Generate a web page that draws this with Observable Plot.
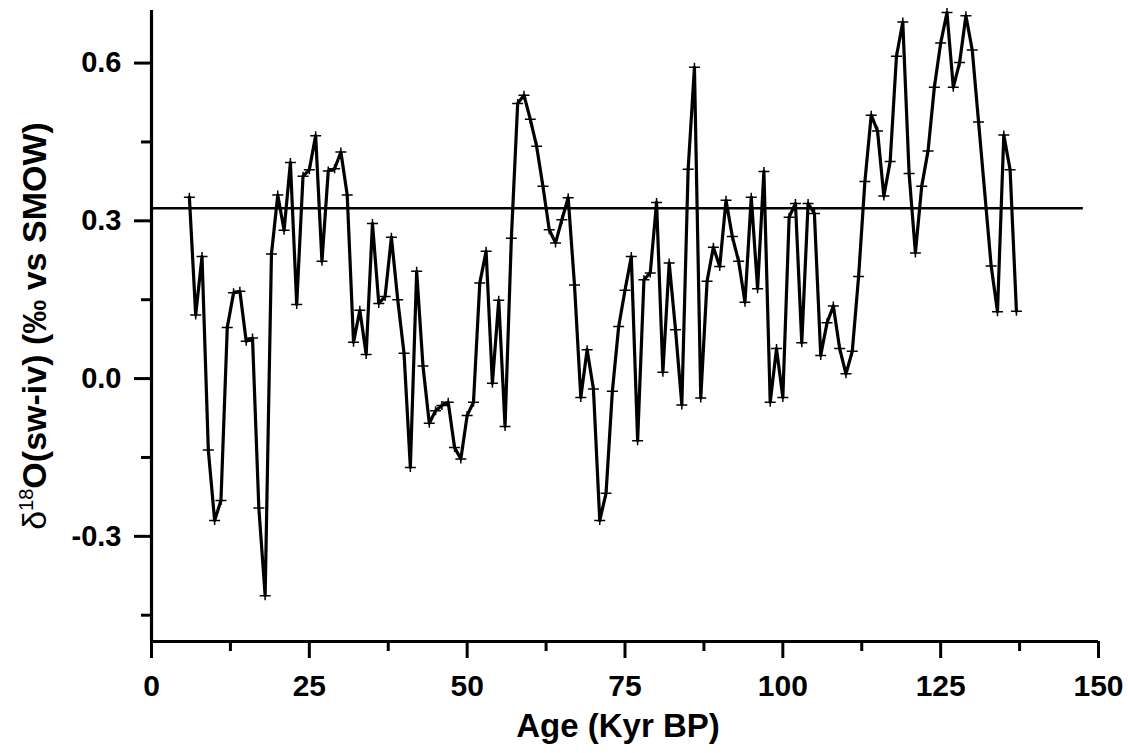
<!DOCTYPE html>
<html>
<head>
<meta charset="utf-8">
<script src="https://cdn.jsdelivr.net/npm/d3@7"></script>
<script src="https://cdn.jsdelivr.net/npm/@observablehq/plot@0.6"></script>
<style>
  html, body { margin: 0; padding: 0; background: #fff; }
  #chart svg { display: block; }
</style>
</head>
<body>
<div id="chart"></div>
<script>
// Age of each sample (kyr BP)
const ages = [
  6, 7, 8, 9, 10, 11, 12, 13, 14, 15, 16, 17, 18, 19, 20, 21, 22, 23, 24, 25,
  26, 27, 28, 29, 30, 31, 32, 33, 34, 35, 36, 37, 38, 39, 40, 41, 42, 43, 44, 45,
  46, 47, 48, 49, 50, 51, 52, 53, 54, 55, 56, 57, 58, 59, 60, 61, 62, 63, 64, 65,
  66, 67, 68, 69, 70, 71, 72, 73, 74, 75, 76, 77, 78, 79, 80, 81, 82, 83, 84, 85,
  86, 87, 88, 89, 90, 91, 92, 93, 94, 95, 96, 97, 98, 99, 100, 101, 102, 103, 104, 105,
  106, 107, 108, 109, 110, 111, 112, 113, 114, 115, 116, 117, 118, 119, 120, 121, 122, 123, 124, 125,
  126, 127, 128, 129, 130, 131, 133, 134, 135, 136, 137
];

// Ice-volume-corrected seawater d18O (permil vs SMOW)
const d18Osw = [
  0.345, 0.121, 0.232, -0.136, -0.270, -0.232, 0.097, 0.163, 0.166, 0.071,
  0.077, -0.246, -0.413, 0.237, 0.349, 0.282, 0.411, 0.141, 0.385, 0.397,
  0.462, 0.223, 0.395, 0.399, 0.431, 0.349, 0.069, 0.130, 0.046, 0.295,
  0.143, 0.156, 0.269, 0.150, 0.048, -0.169, 0.204, 0.024, -0.085, -0.061,
  -0.051, -0.045, -0.131, -0.153, -0.070, -0.045, 0.182, 0.242, -0.009, 0.149,
  -0.091, 0.267, 0.523, 0.539, 0.493, 0.442, 0.366, 0.283, 0.258, 0.302,
  0.344, 0.178, -0.036, 0.055, -0.020, -0.270, -0.218, -0.024, 0.099, 0.168,
  0.232, -0.118, 0.188, 0.201, 0.335, 0.012, 0.220, 0.093, -0.050, 0.398,
  0.592, -0.037, 0.185, 0.250, 0.213, 0.339, 0.270, 0.223, 0.145, 0.345,
  0.171, 0.394, -0.045, 0.057, -0.036, 0.307, 0.333, 0.068, 0.333, 0.314,
  0.044, 0.106, 0.138, 0.057, 0.009, 0.052, 0.194, 0.375, 0.501, 0.471,
  0.347, 0.413, 0.613, 0.678, 0.390, 0.239, 0.366, 0.433, 0.554, 0.638,
  0.696, 0.554, 0.601, 0.690, 0.625, 0.488, 0.214, 0.127, 0.463, 0.397,
  0.128
];

// Horizontal reference level and its extent along the age axis
const refLevel = 0.324;
const refSpan = [0, 147.6];

// Axis ticks
const xMajorTicks = [0, 25, 50, 75, 100, 125, 150];
const xMinorTicks = [12.5, 37.5, 62.5, 87.5, 112.5, 137.5];
const yMajorTicks = [-0.3, 0.0, 0.3, 0.6];
const yMinorTicks = [-0.45, -0.15, 0.15, 0.45];

const xTitle = "Age (Kyr BP)";

const series = ages.map((a, i) => ({age: a, value: d18Osw[i]}));

// Small open "+" marker drawn at every sample
const crossSymbol = {
  draw(context) {
    context.moveTo(-5.5, 0); context.lineTo(5.5, 0);
    context.moveTo(0, -4.5); context.lineTo(0, 4.5);
  }
};

const font = "'Liberation Sans', Arial, Helvetica, sans-serif";

const chart = Plot.plot({
  width: 1128,
  height: 753,
  marginLeft: 151,
  marginRight: 30,
  marginTop: 10,
  marginBottom: 112,
  style: {fontFamily: font, fontWeight: "bold", background: "white", color: "black"},
  x: {domain: [0, 150]},
  y: {domain: [-0.5, 0.7]},
  marks: [
    // axis lines
    Plot.ruleX([0], {y1: -0.5, y2: 0.7, stroke: "black", strokeWidth: 3.2}),
    Plot.ruleY([-0.5], {x1: 0, x2: 150, stroke: "black", strokeWidth: 3.2}),
    // y axis
    Plot.axisY(yMajorTicks, {anchor: "left", tickSize: 17, tickPadding: 13, strokeWidth: 3,
      tickFormat: d => d.toFixed(1), fontSize: 29, fontWeight: "bold", label: null}),
    Plot.axisY(yMinorTicks, {anchor: "left", tickSize: 10, strokeWidth: 3,
      tickFormat: () => "", label: null}),
    // x axis
    Plot.axisX(xMajorTicks, {anchor: "bottom", tickSize: 17, tickPadding: 16, strokeWidth: 3,
      tickFormat: d => String(d), fontSize: 30, fontWeight: "bold", label: null}),
    Plot.axisX(xMinorTicks, {anchor: "bottom", tickSize: 10, strokeWidth: 3,
      tickFormat: () => "", label: null}),
    // reference level
    Plot.ruleY([refLevel], {x1: refSpan[0], x2: refSpan[1], stroke: "black", strokeWidth: 2.6}),
    // record
    Plot.line(series, {x: "age", y: "value", stroke: "black", strokeWidth: 3.2, strokeLinejoin: "round"}),
    Plot.dot(series, {x: "age", y: "value", symbol: crossSymbol, stroke: "black", fill: "none", strokeWidth: 1.5, r: 4})
  ]
});

document.getElementById("chart").appendChild(chart);

// Axis titles
const svg = d3.select(chart);

svg.append("text")
  .attr("x", 618)
  .attr("y", 737)
  .attr("text-anchor", "middle")
  .attr("font-family", font)
  .attr("font-weight", "bold")
  .attr("font-size", 33)
  .attr("fill", "black")
  .text(xTitle);

const yTitle = svg.append("text")
  .attr("transform", "translate(46,326) rotate(-90)")
  .attr("text-anchor", "middle")
  .attr("font-family", font)
  .attr("font-weight", "bold")
  .attr("font-size", 34)
  .attr("fill", "black");
yTitle.append("tspan").attr("font-weight", "normal").text("\u03B4");
yTitle.append("tspan").attr("font-size", 20).attr("dy", -13).attr("font-weight", "normal").text("18");
yTitle.append("tspan").attr("dy", 13).text("O(sw-iv) (\u2030 vs SMOW)");
</script>
</body>
</html>
